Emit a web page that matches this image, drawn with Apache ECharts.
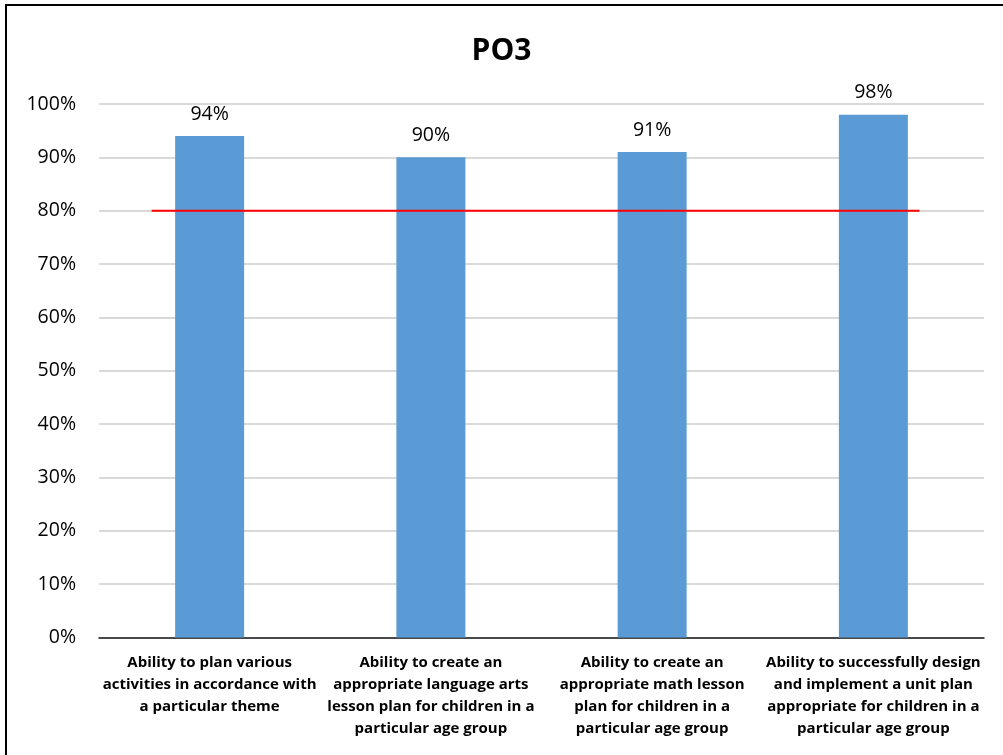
<!DOCTYPE html>
<html>
<head>
<meta charset="utf-8">
<script src="https://cdn.jsdelivr.net/npm/echarts@6/dist/echarts.min.js"></script>
<style>
html,body{margin:0;padding:0;background:#fff;overflow:hidden;}
#frame{position:absolute;left:5px;top:4px;width:1100px;height:900px;border-left:2px solid #000;border-top:2px solid #000;}
#chart{position:absolute;left:0;top:0;width:1003px;height:755px;}
</style>
</head>
<body>
<div id="frame"></div>
<div id="chart"></div>
<script>
const categories = [
  "Ability to plan various\nactivities in accordance with\na particular theme",
  "Ability to create an\nappropriate language arts\nlesson plan for children in a\nparticular age group",
  "Ability to create an\nappropriate math lesson\nplan for children in a\nparticular age group",
  "Ability to successfully design\nand implement a unit plan\nappropriate for children in a\nparticular age group"
];
const values = [94, 90, 91, 98];
const targetValue = 80;
const targetSpan = [0.238, 3.708];
const yTicks = [0, 10, 20, 30, 40, 50, 60, 70, 80, 90, 100];

const font = "Open Sans, Liberation Sans, sans-serif";
const chart = echarts.init(document.getElementById('chart'), null, {renderer: 'canvas'});
chart.setOption({
  animation: false,
  title: {
    text: 'PO3', left: 'center', top: 31,
    textStyle: {fontFamily: font, fontWeight: 'bold', fontSize: 30, color: '#000'}
  },
  grid: {left: 99, right: 19, top: 104, bottom: 117.5, containLabel: false},
  xAxis: [{
    type: 'category', data: categories,
    axisLine: {lineStyle: {color: '#1a1a1a', width: 1.5}},
    axisTick: {show: false},
    axisLabel: {
      interval: 0, margin: 14, lineHeight: 22,
      fontFamily: font, fontWeight: 'bold', fontSize: 15, color: '#000'
    }
  }, {
    type: 'value', min: 0, max: categories.length, show: false
  }],
  yAxis: {
    type: 'value', min: 0, max: 100, interval: 10,
    axisLine: {show: false}, axisTick: {show: false},
    splitLine: {lineStyle: {color: '#d9d9d9', width: 2}},
    axisLabel: {
      formatter: v => yTicks.includes(v) ? v + '%' : '',
      fontFamily: font, fontSize: 19.5, color: '#000', margin: 23
    }
  },
  series: [{
    type: 'bar', data: values, barWidth: 69, xAxisIndex: 0,
    itemStyle: {color: '#5b9bd5'},
    label: {
      show: true, position: 'top', distance: 12, formatter: '{c}%',
      fontFamily: font, fontSize: 19.5, color: '#000'
    }
  }, {
    type: 'line', xAxisIndex: 1, symbol: 'none', silent: true,
    data: [[targetSpan[0], targetValue], [targetSpan[1], targetValue]],
    lineStyle: {color: '#ff0000', width: 2}
  }]
});
</script>
</body>
</html>
